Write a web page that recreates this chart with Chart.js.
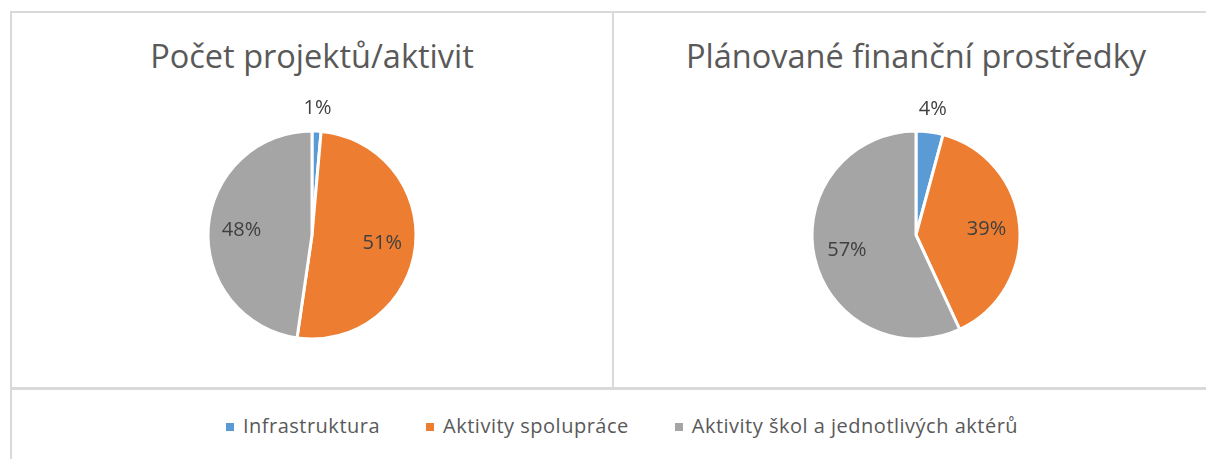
<!DOCTYPE html>
<html>
<head>
<meta charset="utf-8">
<script src="https://cdn.jsdelivr.net/npm/chart.js@4"></script>
<style>
  body { margin: 0; width: 1206px; height: 459px; background: #fff; overflow: hidden; position: relative; font-family: 'Open Sans', sans-serif; }
  .line { position: absolute; background: #d9d9d9; }
  .title { position: absolute; top: 33px; width: 600px; text-align: center; font-size: 32.5px; color: #595959; white-space: nowrap; }
  .pie { position: absolute; width: 300px; height: 300px; }
  #legend { position: absolute; top: 412px; left: 0; width: 1244px; text-align: center; font-size: 20px; letter-spacing: 0.5px; color: #595959; white-space: nowrap; }
  #legend span.item { margin: 0 23px; }
  #legend i { display: inline-block; width: 8px; height: 8px; margin-right: 9px; vertical-align: 2px; }
</style>
</head>
<body>
<div class="line" style="left:10px; top:11px; width:1196px; height:2px"></div>
<div class="line" style="left:10px; top:11px; width:2px; height:448px"></div>
<div class="line" style="left:612px; top:11px; width:2px; height:377px"></div>
<div class="line" style="left:10px; top:387px; width:1196px; height:3px"></div>

<div class="title" style="left:12px">Počet projektů/aktivit</div>
<div class="title" style="left:616px">Plánované finanční prostředky</div>

<div class="pie" style="left:162px; top:85px"><canvas id="chartProjects"></canvas></div>
<div class="pie" style="left:766px; top:85px"><canvas id="chartFunds"></canvas></div>

<div id="legend"></div>

<script>
const categories = ['Infrastruktura', 'Aktivity spolupráce', 'Aktivity škol a jednotlivých aktérů'];
const projectShares = [1.4, 50.9, 47.7];
const fundShares = [4.2, 38.9, 56.9];
const sliceColors = ['#5b9bd5', '#ed7d31', '#a5a5a5'];

// percentage labels: small slices outside, the rest inside
const pctLabels = {
    id: 'pctLabels',
    afterDatasetsDraw(chart) {
        const ctx = chart.ctx;
        const data = chart.data.datasets[0].data;
        const total = data.reduce((a, b) => a + b, 0);
        ctx.save();
        ctx.font = '20px "Open Sans", sans-serif';
        ctx.fillStyle = '#404040';
        ctx.textAlign = 'center';
        ctx.textBaseline = 'middle';
        chart.getDatasetMeta(0).data.forEach((arc, i) => {
            const p = data[i] / total * 100;
            const mid = (arc.startAngle + arc.endAngle) / 2;
            const r = p < 10 ? arc.outerRadius + 23 : arc.outerRadius * 0.68;
            ctx.fillText(Math.round(p) + '%', arc.x + Math.cos(mid) * r, arc.y + Math.sin(mid) * r);
        });
        ctx.restore();
    }
};

function makePie(id, values) {
    return new Chart(document.getElementById(id), {
        type: 'pie',
        data: {
            labels: categories,
            datasets: [{
                data: values,
                backgroundColor: sliceColors,
                borderColor: '#ffffff',
                borderWidth: 3,
                radius: 104
            }]
        },
        options: {
            responsive: false,
            animation: false,
            plugins: { legend: { display: false }, tooltip: { enabled: false } }
        },
        plugins: [pctLabels]
    });
}

document.querySelectorAll('.pie canvas').forEach(c => { c.width = 300; c.height = 300; });
makePie('chartProjects', projectShares);
makePie('chartFunds', fundShares);

const legend = document.getElementById('legend');
categories.forEach((name, i) => {
    const item = document.createElement('span');
    item.className = 'item';
    const sw = document.createElement('i');
    sw.style.background = sliceColors[i];
    item.append(sw, name);
    legend.appendChild(item);
});
</script>
</body>
</html>
